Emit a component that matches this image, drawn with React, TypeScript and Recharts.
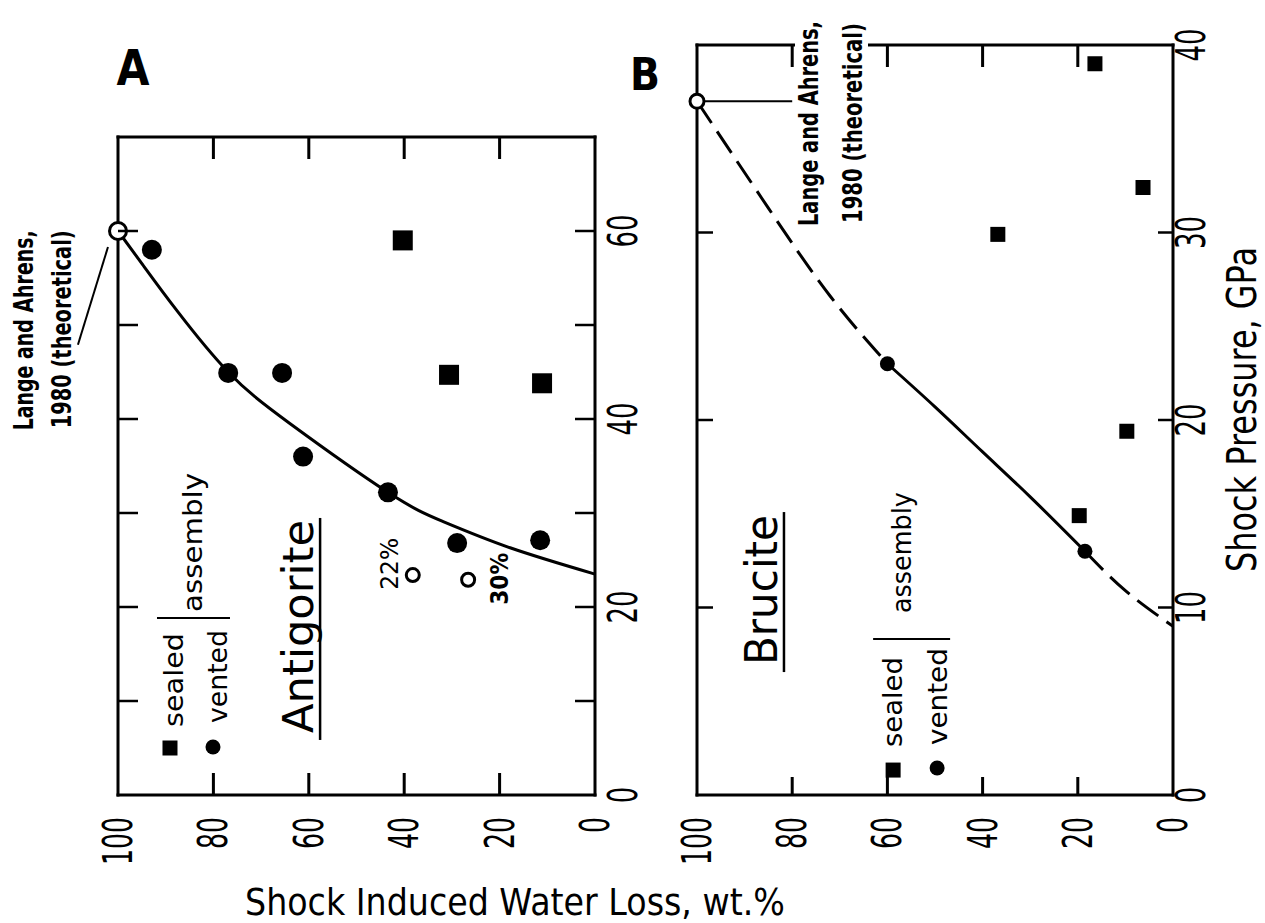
import React from 'react'
import { ComposedChart, Line, Scatter, XAxis, YAxis, ReferenceDot, ReferenceLine } from 'recharts'

const FONT = '"DejaVu Sans", sans-serif'

// Antigorite: water loss (wt.%) vs shock pressure (GPa)
const antiVentedLoss = [92.9, 76.9, 65.6, 61.2, 43.4, 28.9, 11.5]
const antiVentedP = [58.0, 44.9, 44.9, 36.0, 32.2, 26.8, 27.1]
const antiSealedLoss = [40.3, 30.6, 11.1]
const antiSealedP = [59.0, 44.7, 43.8]
const antiOpenLoss = [38.2, 26.6]
const antiOpenP = [23.4, 22.9]
const antiOpenLabels = ['22%', '30%']
const antiTheoryLoss = [100]
const antiTheoryP = [60]
const antiCurveLoss = [100, 94.8, 87.6, 76.9, 63.9, 43.4, 31.9, 17.8, 0]
const antiCurveP = [60, 56.4, 51.5, 45.0, 39.5, 32.2, 29.1, 26.3, 23.5]

// Brucite
const bruVentedLoss = [60, 18.5]
const bruVentedP = [23.0, 13.0]
const bruSealedLoss = [16.4, 6.3, 36.8, 9.7, 19.7]
const bruSealedP = [39.0, 32.4, 29.9, 19.4, 14.9]
const bruTheoryLoss = [100]
const bruTheoryP = [37]
const bruUpperLoss = [100, 85, 72, 60]
const bruUpperP = [37, 31.3, 26.6, 23]
const bruMidLoss = [60, 50, 40, 30, 18.5]
const bruMidP = [23, 20.7, 18.3, 15.9, 13]
const bruLowLoss = [18.5, 10, 0]
const bruLowP = [13, 10.9, 9]

const lossTicks = [0, 20, 40, 60, 80, 100]
const antiPTicks = [0, 10, 20, 30, 40, 50, 60, 70]
const antiPLabels = [0, 20, 40, 60]
const bruPTicks = [0, 10, 20, 30, 40]

const pts = (xs: number[], ys: number[], labels?: string[]) =>
  xs.map((x, i) => ({ x, y: ys[i], label: labels ? labels[i] : '' }))

const H = 923
const WA = 660
const WB = 645
const LEFT_B = 620
const marginA = { top: 136, right: 64, bottom: 127, left: 117 }
const marginB = { top: 44, right: 91, bottom: 127, left: 76 }

// plot boxes in page pixels (each axis band is 1px wide)
const boxA = { l: marginA.left + 1, r: WA - marginA.right - 1, t: marginA.top + 1, b: H - marginA.bottom - 1 }
const boxB = { l: LEFT_B + marginB.left + 1, r: LEFT_B + WB - marginB.right - 1, t: marginB.top + 1, b: H - marginB.bottom - 1 }

const BLACK = '#000'
const TW = 3
const TICK = { stroke: BLACK, strokeWidth: 2.5 }
const AXIS = { stroke: BLACK, strokeWidth: 3, strokeLinecap: 'square' as const }

function VText({ x, y, children, size, len, anchor = 'start', weight = 400, stretch = 1 }: any) {
  return (
    <text
      transform={`translate(${x},${y}) rotate(-90) scale(1,${stretch})`}
      textAnchor={anchor}
      fontSize={size}
      fontFamily={FONT}
      fontWeight={weight}
      textLength={len}
      lengthAdjust="spacingAndGlyphs"
      fill={BLACK}
    >
      {children}
    </text>
  )
}

const bottomTick = (p: any) => {
  const s = String(p.payload.value)
  return <VText x={p.x + 14} y={p.y + 22} anchor="end" size={40} len={s.length * 16}>{s}</VText>
}

const leftTick = (inner: number, max: number) => (p: any) => {
  const v = p.payload.value
  return <g>{v > 0 && v < max && <line x1={p.x} x2={p.x + inner} y1={p.y} y2={p.y} {...TICK} />}</g>
}

const rightTick = (inner: number, max: number, labels: number[], off: number) => (p: any) => {
  const v = p.payload.value
  const s = String(v)
  return (
    <g>
      {v > 0 && v < max && <line x1={p.x} x2={p.x - inner} y1={p.y} y2={p.y} {...TICK} />}
      {labels.includes(v) && (
        <VText x={p.x + off} y={p.y} anchor="middle" size={40} len={s.length * 16.5}>{s}</VText>
      )}
    </g>
  )
}

// inward marks on the top and bottom frames (water loss is reversed: 100 at the left)
function FrameTicks({ box, bottomLen, topLen }: any) {
  return (
    <g>
      {lossTicks.filter((v) => v > 0 && v < 100).map((v) => {
        const x = box.l + ((100 - v) / 100) * (box.r - box.l)
        return (
          <g key={v}>
            <rect x={x - TW / 2} y={box.b - bottomLen} width={TW} height={bottomLen} fill={BLACK} />
            <rect x={x - TW / 2} y={box.t} width={TW} height={topLen} fill={BLACK} />
          </g>
        )
      })}
    </g>
  )
}

const square = (s: number) => (p: any) => (
  <rect x={p.cx - s / 2} y={p.cy - s / 2} width={s} height={s} fill={BLACK} />
)
const dot = (d: number) => (p: any) => <circle cx={p.cx} cy={p.cy} r={d / 2} fill={BLACK} />
const ring = (d: number, w: number) => (p: any) => (
  <circle cx={p.cx} cy={p.cy} r={d / 2} fill="#fff" stroke={BLACK} strokeWidth={w} />
)

function Legend({ cx, cy, s, c, sealed, vented, bracket, assembly }: any) {
  return (
    <g transform={`translate(${cx},${cy})`}>
      <rect x={-s / 2} y={-s / 2} width={s} height={s} fill={BLACK} />
      <VText x={sealed[0]} y={sealed[1]} size={27} len={sealed[2]}>sealed</VText>
      <circle cx={c[0]} cy={c[1]} r={s / 2} fill={BLACK} />
      <VText x={vented[0]} y={vented[1]} size={27} len={vented[2]}>vented</VText>
      <line x1={bracket[0]} x2={bracket[1]} y1={bracket[2]} y2={bracket[2]} stroke={BLACK} strokeWidth={2} />
      <VText x={assembly[0]} y={assembly[1]} size={27} len={assembly[2]}>assembly</VText>
    </g>
  )
}

function TheoryLabel({ x, y, dx, dy, len1, len2 }: any) {
  return (
    <g>
      <VText x={x} y={y} size={19} stretch={1.4} len={len1} weight={700}>Lange and Ahrens,</VText>
      <VText x={x + dx} y={y + dy} size={19} stretch={1.4} len={len2} weight={700}>1980 (theoretical)</VText>
    </g>
  )
}

function AntigoriteChart() {
  return (
    <ComposedChart width={WA} height={H} margin={marginA}>
      <XAxis xAxisId="b" dataKey="x" type="number" domain={[0, 100]} reversed ticks={lossTicks} interval={0}
        height={1} tickSize={0} tickMargin={0} tickLine={false} axisLine={AXIS} tick={bottomTick} />
      <XAxis xAxisId="t" orientation="top" dataKey="x" type="number" domain={[0, 100]} reversed ticks={lossTicks}
        height={1} tickLine={false} axisLine={AXIS} tick={false} />
      <YAxis yAxisId="l" dataKey="y" type="number" domain={[0, 70]} ticks={antiPTicks} interval={0}
        width={1} tickSize={0} tickMargin={0} tickLine={false} axisLine={AXIS} tick={leftTick(20, 70)} />
      <YAxis yAxisId="r" orientation="right" dataKey="y" type="number" domain={[0, 70]} ticks={antiPTicks} interval={0}
        width={1} tickSize={0} tickMargin={0} tickLine={false} axisLine={AXIS} tick={rightTick(20, 70, antiPLabels, 42)} />

      <Line xAxisId="b" yAxisId="l" data={pts(antiCurveLoss, antiCurveP)} dataKey="y" type="natural"
        stroke={BLACK} strokeWidth={3} dot={false} activeDot={false} isAnimationActive={false} />

      <ReferenceLine xAxisId="b" yAxisId="l" ifOverflow="visible" stroke={BLACK} strokeWidth={2}
        segment={[{ x: 108.4, y: 47.9 }, { x: 102.1, y: 58.3 }]} />

      <Scatter xAxisId="b" yAxisId="l" data={pts(antiVentedLoss, antiVentedP)} dataKey="y" shape={dot(20)} isAnimationActive={false} />
      <Scatter xAxisId="b" yAxisId="l" data={pts(antiSealedLoss, antiSealedP)} dataKey="y" shape={square(20)} isAnimationActive={false} />
      <Scatter xAxisId="b" yAxisId="l" data={pts(antiOpenLoss, antiOpenP, antiOpenLabels)} dataKey="y" shape={ring(13, 3)} isAnimationActive={false} />
      <Scatter xAxisId="t" yAxisId="r" data={pts(antiTheoryLoss, antiTheoryP)} dataKey="y" shape={ring(17, 3)} isAnimationActive={false} />

      <ReferenceDot xAxisId="b" yAxisId="l" x={117.8} y={38.8} ifOverflow="visible"
        shape={(p: any) => <TheoryLabel x={p.cx} y={p.cy} dx={38} dy={-2} len1={200} len2={198} />} />
      <ReferenceDot xAxisId="b" yAxisId="l" x={89.1} y={5.0} ifOverflow="visible"
        shape={(p: any) => (
          <Legend cx={p.cx} cy={p.cy} s={15} c={[43, -1]} sealed={[13, -21, 94]} vented={[57, -25, 93]}
            bracket={[-13, 60, -130]} assembly={[32, -136, 139]} />
        )} />
      <ReferenceDot xAxisId="b" yAxisId="l" x={59.1} y={6.6} ifOverflow="visible"
        shape={(p: any) => (
          <g transform={`translate(${p.cx},${p.cy})`}>
            <VText x={0} y={0} size={42} len={213}>Antigorite</VText>
            <line x1={7} x2={7} y1={7} y2={-215} stroke={BLACK} strokeWidth={2.5} />
          </g>
        )} />
      <ReferenceDot xAxisId="b" yAxisId="l" x={41.3} y={24.6} ifOverflow="visible"
        shape={(p: any) => <VText x={p.cx} y={p.cy} anchor="middle" size={24} len={52}>{antiOpenLabels[0]}</VText>} />
      <ReferenceDot xAxisId="b" yAxisId="l" x={18.2} y={23.0} ifOverflow="visible"
        shape={(p: any) => <VText x={p.cx} y={p.cy} anchor="middle" size={24} len={52} weight={700}>{antiOpenLabels[1]}</VText>} />
    </ComposedChart>
  )
}

function BruciteChart() {
  return (
    <ComposedChart width={WB} height={H} margin={marginB}>
      <XAxis xAxisId="b" dataKey="x" type="number" domain={[0, 100]} reversed ticks={lossTicks} interval={0}
        height={1} tickSize={0} tickMargin={0} tickLine={false} axisLine={AXIS} tick={bottomTick} />
      <XAxis xAxisId="t" orientation="top" dataKey="x" type="number" domain={[0, 100]} reversed ticks={lossTicks}
        height={1} tickLine={false} axisLine={AXIS} tick={false} />
      <YAxis yAxisId="l" dataKey="y" type="number" domain={[0, 40]} ticks={bruPTicks} interval={0}
        width={1} tickSize={0} tickMargin={0} tickLine={false} axisLine={AXIS} tick={leftTick(16, 40)} />
      <YAxis yAxisId="r" orientation="right" dataKey="y" type="number" domain={[0, 40]} ticks={bruPTicks} interval={0}
        width={1} tickSize={0} tickMargin={0} tickLine={false} axisLine={AXIS} tick={rightTick(15, 40, bruPTicks, 32)} />

      <Line xAxisId="b" yAxisId="l" data={pts(bruUpperLoss, bruUpperP)} dataKey="y" type="natural"
        stroke={BLACK} strokeWidth={3} strokeDasharray="26 10" dot={false} activeDot={false} isAnimationActive={false} />
      <Line xAxisId="b" yAxisId="l" data={pts(bruMidLoss, bruMidP)} dataKey="y" type="natural"
        stroke={BLACK} strokeWidth={3} dot={false} activeDot={false} isAnimationActive={false} />
      <Line xAxisId="b" yAxisId="l" data={pts(bruLowLoss, bruLowP)} dataKey="y" type="natural"
        stroke={BLACK} strokeWidth={3} strokeDasharray="26 10" dot={false} activeDot={false} isAnimationActive={false} />

      <ReferenceLine xAxisId="b" yAxisId="l" ifOverflow="visible" stroke={BLACK} strokeWidth={2}
        segment={[{ x: 98.6, y: 37 }, { x: 80, y: 37 }]} />

      <Scatter xAxisId="b" yAxisId="l" data={pts(bruVentedLoss, bruVentedP)} dataKey="y" shape={dot(15)} isAnimationActive={false} />
      <Scatter xAxisId="b" yAxisId="l" data={pts(bruSealedLoss, bruSealedP)} dataKey="y" shape={square(15)} isAnimationActive={false} />
      <Scatter xAxisId="t" yAxisId="r" data={pts(bruTheoryLoss, bruTheoryP)} dataKey="y" shape={ring(14, 3)} isAnimationActive={false} />

      <ReferenceDot xAxisId="b" yAxisId="l" x={58.8} y={1.33} ifOverflow="visible"
        shape={(p: any) => (
          <Legend cx={p.cx} cy={p.cy} s={15} c={[44, -2]} sealed={[9, -23, 90]} vented={[54, -25, 97]}
            bracket={[-20, 57, -131]} assembly={[18, -157, 121]} />
        )} />
      <ReferenceDot xAxisId="b" yAxisId="l" x={83.2} y={6.93} ifOverflow="visible"
        shape={(p: any) => (
          <g transform={`translate(${p.cx},${p.cy})`}>
            <VText x={0} y={0} size={45} len={150}>Brucite</VText>
            <line x1={7} x2={7} y1={7} y2={-153} stroke={BLACK} strokeWidth={2.5} />
          </g>
        )} />
    </ComposedChart>
  )
}

export default function App() {
  return (
    <div style={{ position: 'absolute', left: 0, top: 0, width: 1265, height: H, background: '#fff', overflow: 'hidden' }}>
      <div style={{ position: 'absolute', left: 0, top: 0 }}>
        <AntigoriteChart />
      </div>
      <div style={{ position: 'absolute', left: LEFT_B, top: 0 }}>
        <BruciteChart />
      </div>
      <svg width={1265} height={H} style={{ position: 'absolute', left: 0, top: 0, pointerEvents: 'none' }}>
        <FrameTicks box={boxA} bottomLen={22} topLen={22} />
        <FrameTicks box={boxB} bottomLen={18} topLen={22} />
        <text x={133} y={85} textAnchor="middle" fontSize={50} fontWeight={700} fontFamily={FONT} textLength={33} lengthAdjust="spacingAndGlyphs">A</text>
        <text x={645} y={90} textAnchor="middle" fontSize={45} fontWeight={700} fontFamily={FONT} textLength={30} lengthAdjust="spacingAndGlyphs">B</text>
        {/* Brucite theoretical label sits on top of the frame and breaks it */}
        <rect x={795} y={30} width={73} height={30} fill="#fff" />
        <TheoryLabel x={818} y={226} dx={44} dy={-3} len1={205} len2={200} />
        <text x={245} y={915} fontSize={38} fontFamily={FONT} textLength={540} lengthAdjust="spacingAndGlyphs">Shock Induced Water Loss, wt.%</text>
        <VText x={1256} y={572} size={40} len={325}>Shock Pressure, GPa</VText>
      </svg>
    </div>
  )
}
